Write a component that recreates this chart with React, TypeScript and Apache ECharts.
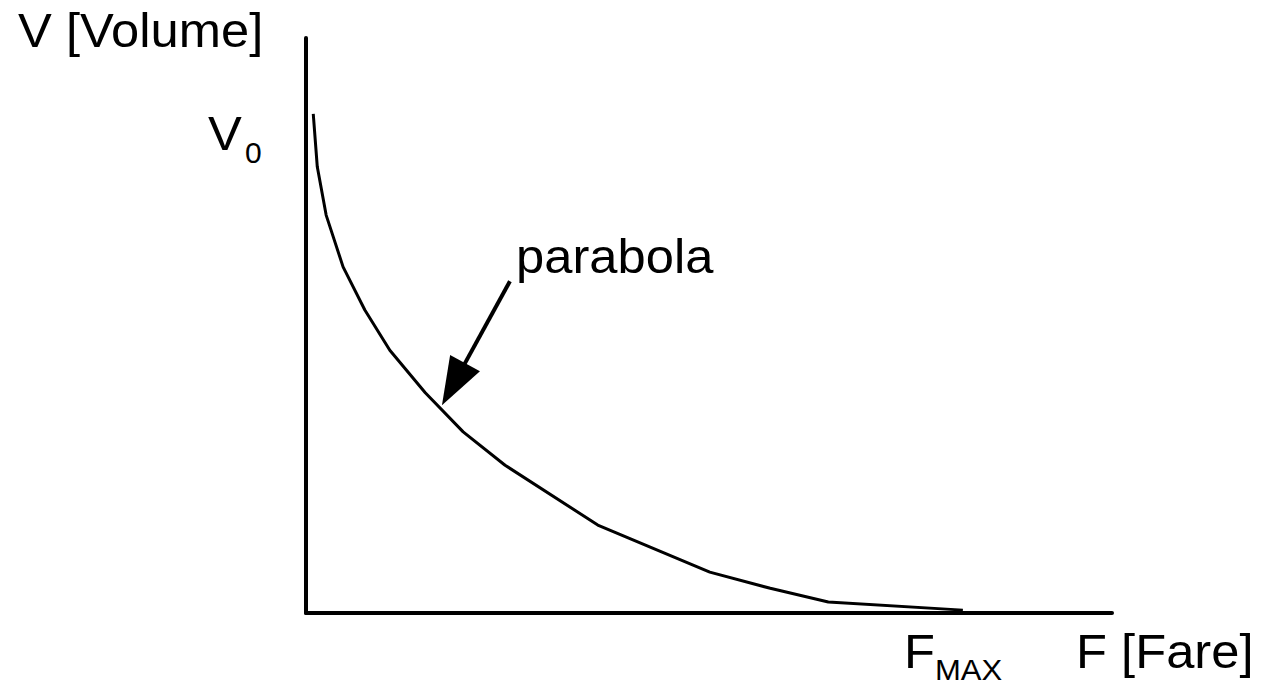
import React, { useEffect, useRef } from "react";
import * as echarts from "echarts";

// Demand curve: volume as a function of fare (arbitrary 0-100 units)
const fare: number[] = [0.9, 1.4, 2.5, 4.6, 7.3, 10.4, 14.8, 19.5, 24.7, 36.2, 50.1, 57.6, 64.8, 81.5];
const volume: number[] = [86.8, 77.6, 69.2, 60.2, 52.7, 45.7, 38.3, 31.5, 25.7, 15.3, 7.1, 4.3, 1.9, 0.5];

// Arrow annotation pointing at the curve (data coordinates; end = arrowhead centre)
const arrowFrom: [number, number] = [25.3, 57.7];
const arrowTo: [number, number] = [18.3, 39.8];

const yAxisTitle = "V [Volume]";
const xAxisTitle = "F [Fare]";
const curveLabel = "parabola";

const FONT = '"Liberation Sans", Arial, sans-serif';

export default function App() {
  const ref = useRef<HTMLDivElement>(null);

  useEffect(() => {
    if (!ref.current) return;
    const chart = echarts.init(ref.current, undefined, { renderer: "svg" });
    const txt = (text: string, x: number, y: number, size: number) => ({
      type: "text",
      x,
      y,
      scaleX: 1.035,
      silent: true,
      style: {
        text,
        fill: "#000",
        font: `${size}px ${FONT}`,
        align: "left",
        verticalAlign: "middle",
      },
    });
    chart.setOption({
      animation: false,
      backgroundColor: "#fff",
      grid: { left: 306, right: 158, top: 38, bottom: 71 },
      xAxis: {
        type: "value",
        min: 0,
        max: 100,
        axisLine: { show: true, onZero: false, lineStyle: { color: "#000", width: 4 } },
        axisTick: { show: false },
        axisLabel: { show: false },
        splitLine: { show: false },
      },
      yAxis: {
        type: "value",
        min: 0,
        max: 100,
        axisLine: { show: true, onZero: false, lineStyle: { color: "#000", width: 4 } },
        axisTick: { show: false },
        axisLabel: { show: false },
        splitLine: { show: false },
      },
      series: [
        {
          type: "line",
          data: fare.map((f, i) => [f, volume[i]]),
          showSymbol: false,
          symbol: "none",
          smooth: false,
          lineStyle: { color: "#000", width: 3 },
          silent: true,
          markLine: {
            silent: true,
            animation: false,
            symbol: ["none", "triangle"],
            symbolSize: [34, 48],
            label: { show: false },
            lineStyle: { color: "#000", width: 4, type: "solid" },
            itemStyle: { color: "#000" },
            data: [[{ coord: arrowFrom }, { coord: arrowTo }]],
          },
        },
      ],
      graphic: [
        txt(yAxisTitle, 18, 30, 49),
        txt("V", 208, 133, 49),
        txt("0", 245, 153, 29),
        txt(curveLabel, 516, 256, 49),
        txt("F", 904, 651, 49),
        txt("MAX", 935, 669, 30),
        txt(xAxisTitle, 1076, 651, 49),
      ],
    });
    return () => chart.dispose();
  }, []);

  return (
    <div
      ref={ref}
      style={{ position: "absolute", left: 0, top: 0, width: 1270, height: 684, background: "#fff" }}
    />
  );
}
